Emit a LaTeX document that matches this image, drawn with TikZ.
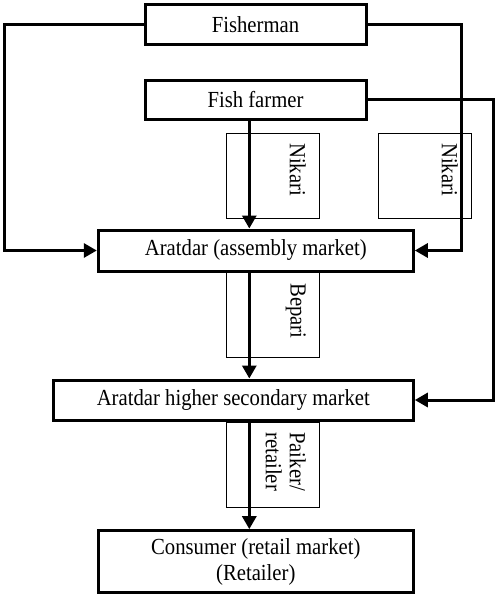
\documentclass[tikz,border=0pt]{standalone}
\usepackage{fontspec}
\setmainfont{Liberation Serif}[FakeStretch=0.9]
\usetikzlibrary{arrows.meta}
\begin{document}
\begin{tikzpicture}[x=0.75pt,y=-0.75pt,
  mainbox/.style={draw,line width=2.25pt,rectangle,inner sep=0pt,align=center,
    font=\fontsize{17.25}{19.5}\selectfont},
  lblbox/.style={draw,line width=0.75pt,rectangle,inner sep=0pt,
    minimum width=69.5pt,minimum height=63.75pt},
  lbltext/.style={rotate=-90,inner sep=0pt,anchor=north west,align=left,
    font=\fontsize{17.25}{18}\selectfont},
  flow/.style={line width=2.25pt,-{Triangle[length=9.75pt,width=10.5pt]}}]
\useasboundingbox (0,0) rectangle (500,599);
% label boxes
\node[lblbox] (nk1) at (273,175.8) {};
\node[lblbox] (nk2) at (425,175.8) {};
\node[lblbox] (bp) at (273,315) {};
\node[lblbox] (pk) at (273,464.5) {};
\node[lbltext] (nk1t) at (306,143) {Nikari};
\node[lbltext] (nk2t) at (458,143) {Nikari};
\node[lbltext] (bpt) at (306,283) {Bepari};
\node[lbltext] (pkt) at (306,432) {Paiker/\\retailer};
% main boxes
\node[mainbox,minimum width=165.75pt,minimum height=29.6pt] (fisher) at (255.5,24.5) {Fisherman};
\node[mainbox,minimum width=165.75pt,minimum height=29pt] (farmer) at (255.5,100) {Fish farmer};
\node[mainbox,minimum width=236.25pt,minimum height=30.75pt] (arat) at (255.8,250.5) {Aratdar (assembly market)};
\node[mainbox,minimum width=270pt,minimum height=30pt] (sec) at (233.3,400) {Aratdar higher secondary market};
\node[mainbox,minimum width=236.25pt,minimum height=46.3pt] (cons) at (255.8,561.5) {Consumer (retail market)\\(Retailer)};
% connector helpers
\coordinate (vx) at (249.3,0);
\coordinate (L) at (4.5,24.5);
\coordinate (R1) at (461.3,24.5);
\coordinate (R2) at (493.3,100);
% connectors
\draw[flow] (farmer.south -| vx) -- (arat.north -| vx);
\draw[flow] (arat.south -| vx) -- (sec.north -| vx);
\draw[flow] (sec.south -| vx) -- (cons.north -| vx);
\draw[flow] (fisher.west) -- (L) |- (arat.west);
\draw[flow] (fisher.east) -- (R1) |- (arat.east);
\draw[flow] (farmer.east) -- (R2) |- (sec.east);
\end{tikzpicture}
\end{document}
